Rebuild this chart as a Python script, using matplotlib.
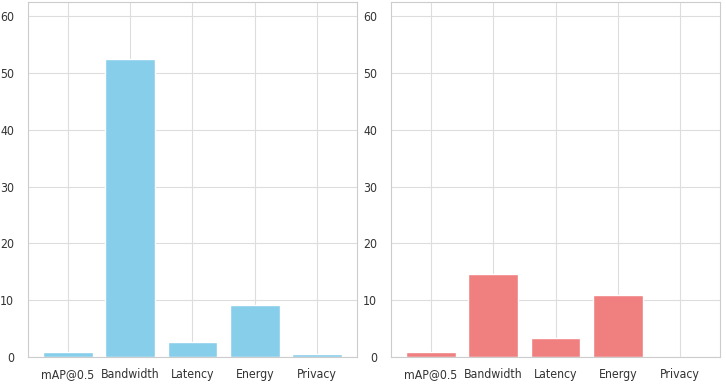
import matplotlib
matplotlib.use("Agg")
import matplotlib.pyplot as plt
import seaborn as sns

sns.set_theme(style="whitegrid")
plt.rcParams['font.family'] = ['DejaVu Sans']
plt.rcParams['font.stretch'] = 'condensed'

categories = ["mAP@0.5", "Bandwidth", "Latency", "Energy", "Privacy"]
left_values = [0.8, 52.5, 2.6, 9.1, 0.6]
right_values = [0.8, 14.7, 3.3, 10.9, 0.0]

fig = plt.figure(figsize=(7.26, 3.87), dpi=100)
ax1 = fig.add_axes([28/726, 1-357/387, (357-28)/726, (357-2)/387])
ax2 = fig.add_axes([391/726, 1-357/387, (720-391)/726, (357-2)/387])

for ax, vals, col in [(ax1, left_values, "skyblue"), (ax2, right_values, "lightcoral")]:
    ax.bar(categories, vals, color=col, width=0.8)
    ax.set_ylim(0, 62.5)
    ax.set_yticks([0, 10, 20, 30, 40, 50, 60])
    ax.tick_params(axis='x', labelsize=8.8, pad=2, labelcolor='#333333')
    ax.tick_params(axis='y', labelsize=8.8, pad=4, labelcolor='#333333')
    ax.grid(True, color='#dddddd', linewidth=0.8)
    for s in ax.spines.values():
        s.set_color("#cccccc")
        s.set_linewidth(0.8)

fig.savefig("out.png", dpi=100)
